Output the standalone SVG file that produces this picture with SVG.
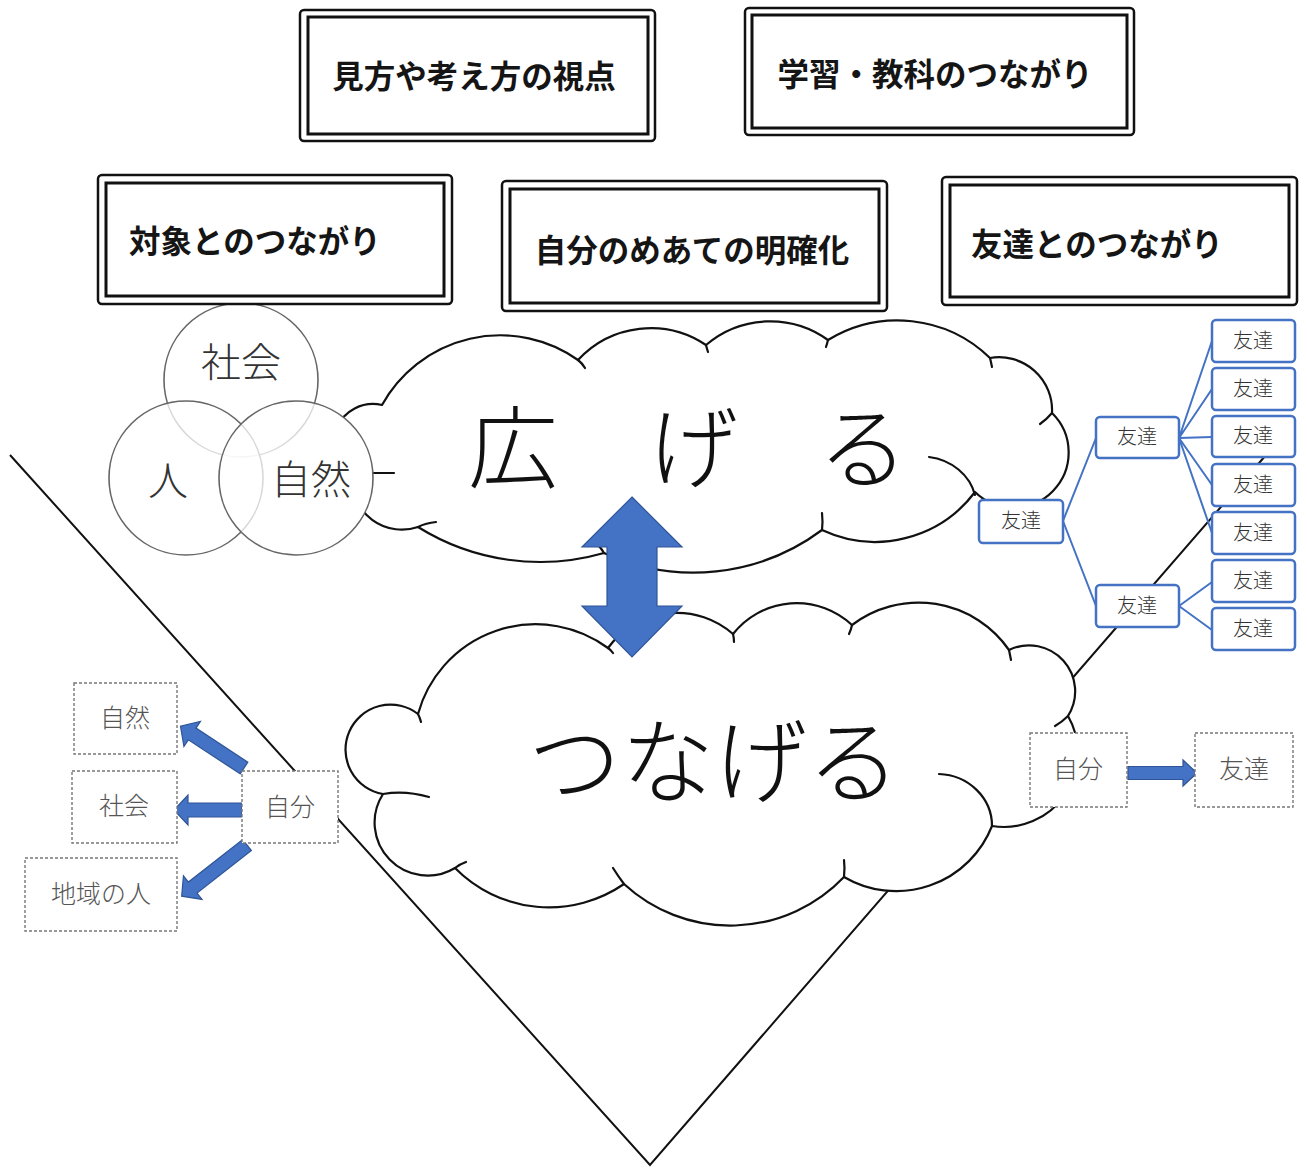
<svg xmlns="http://www.w3.org/2000/svg" width="1307" height="1168" viewBox="0 0 1307 1168">
<style>
.bg{fill:#fff}
.dbo{fill:#fff;stroke:#111;stroke-width:2.5}
.dbi{fill:none;stroke:#111;stroke-width:3}
.ttl{font-family:"Noto Sans CJK JP","Noto Sans CJK SC",sans-serif;font-weight:700;font-size:31.5px;fill:#151515}
.cloud{fill:#fff;stroke:#111;stroke-width:2.2;stroke-linejoin:round}
.crease{fill:none;stroke:#111;stroke-width:2.2;stroke-linecap:round}
.big{font-family:"Noto Sans CJK JP","Noto Sans CJK SC",sans-serif;font-weight:300;fill:#111}
.vline{stroke:#111;stroke-width:2;fill:none}
.circ{fill:#fff;fill-opacity:0.75;stroke:#666;stroke-width:1.6}
.under{fill:#fff}
.ctx{font-family:"Noto Sans CJK JP","Noto Sans CJK SC",sans-serif;font-weight:300;font-size:40px;fill:#333;text-anchor:middle}
.fb{fill:#fff;stroke:#4472C4;stroke-width:2.5}
.ft{font-family:"Noto Sans CJK JP","Noto Sans CJK SC",sans-serif;font-weight:300;font-size:20px;fill:#333;text-anchor:middle}
.fl{stroke:#4472C4;stroke-width:2;fill:none}
.db{fill:#fff;stroke:#777;stroke-width:1.4;stroke-dasharray:3 2}
.dt{font-family:"Noto Sans CJK JP","Noto Sans CJK SC",sans-serif;font-weight:300;font-size:25px;fill:#555;text-anchor:middle}
.arr{fill:#4472C4;stroke:#2F5597;stroke-width:1.2}
</style>
<rect class="bg" x="0" y="0" width="1307" height="1168"/>

<g id="v-shape">
<path class="vline" d="M10,455 L650,1165 L1266,455"/>
</g>

<g id="cloud-hirogeru">
<path class="cloud" d="M352,478 A40 40 0 0 1 382,405 A135 135 0 0 1 578,360 A99 99 0 0 1 706,345 A99 99 0 0 1 828,340 A133 133 0 0 1 990,358 A53 53 0 0 1 1052,413 A55 55 0 0 1 975,492 A125 125 0 0 1 822,530 A215 215 0 0 1 604,553 A231 231 0 0 1 418,527 A50 50 0 0 1 352,478 Z"/>
<path class="crease" d="M929,457 A55 50 0 0 1 975,495"/>
<path class="crease" d="M822,530 Q823,522 822,513"/>
<path class="crease" d="M604,553 Q600,546 594,542"/>
<path class="crease" d="M418,527 Q426,523 436,522"/>
<path class="crease" d="M1052,413 Q1046,420 1040,424"/>
<path class="crease" d="M990,358 Q991,362 992,367"/>
<path class="crease" d="M578,360 Q582,363 585,368"/>
<path class="crease" d="M706,345 Q707,349 708,352"/>
<path class="crease" d="M828,340 Q827,344 826,347"/>
<path class="crease" d="M373,473 L394,473"/>
<text class="big" font-size="90" x="468 648 818" y="481">広げる</text>
</g>

<g id="cloud-tsunageru">
<path class="cloud" d="M383,794 A45 45 0 1 1 418,714 A122 122 0 0 1 608,648 A85 85 0 0 1 733,634 A81 81 0 0 1 852,625 A110 110 0 0 1 1009,650 A46 46 0 0 1 1068,716 A74 74 0 0 1 992,826 A103 103 0 0 1 844,877 A157 157 0 0 1 624,884 A132 132 0 0 1 455,868 A53 53 0 0 1 383,794 Z"/>
<path class="crease" d="M939,774 A55 52 0 0 1 992,826"/>
<path class="crease" d="M844,877 Q845,868 844,860"/>
<path class="crease" d="M624,884 Q618,876 613,868"/>
<path class="crease" d="M455,868 Q460,864 466,862"/>
<path class="crease" d="M383,794 Q405,790 429,797"/>
<path class="crease" d="M418,714 Q420,718 421,722"/>
<path class="crease" d="M608,648 Q611,650 613,653"/>
<path class="crease" d="M733,634 Q734,638 734,642"/>
<path class="crease" d="M852,625 Q851,630 849,634"/>
<path class="crease" d="M1009,650 Q1010,655 1011,660"/>
<path class="crease" d="M1068,716 Q1062,722 1055,726"/>
<text class="big" font-size="93" x="528" y="796">つなげる</text>
</g>

<g id="circle-backing">
<circle class="under" cx="241" cy="380" r="77"/>
<circle class="under" cx="186" cy="478" r="77"/>
<circle class="under" cx="296" cy="478" r="77"/>
</g>
<g id="circle-shakai">
<circle class="circ" cx="241" cy="380" r="77"/>
<text class="ctx" x="241" y="377">社会</text>
</g>
<g id="circle-hito">
<circle class="circ" cx="186" cy="478" r="77"/>
<text class="ctx" x="168" y="495">人</text>
</g>
<g id="circle-shizen">
<circle class="circ" cx="296" cy="478" r="77"/>
<text class="ctx" x="311" y="494">自然</text>
</g>

<g id="box-mikata">
<rect class="dbo" x="300" y="10" width="355" height="131" rx="4"/>
<rect class="dbi" x="308" y="17" width="340" height="117"/>
<text class="ttl" x="474" y="88" text-anchor="middle">見方や考え方の視点</text>
</g>
<g id="box-gakushu">
<rect class="dbo" x="745" y="8" width="389" height="127" rx="4"/>
<rect class="dbi" x="752" y="15" width="375" height="113"/>
<text class="ttl" x="935" y="86" text-anchor="middle">学習・教科のつながり</text>
</g>
<g id="box-taisho">
<rect class="dbo" x="98" y="175" width="354" height="129" rx="4"/>
<rect class="dbi" x="106" y="183" width="338" height="113"/>
<text class="ttl" x="129" y="253">対象とのつながり</text>
</g>
<g id="box-meate">
<rect class="dbo" x="502" y="181" width="385" height="130" rx="4"/>
<rect class="dbi" x="510" y="189" width="369" height="114"/>
<text class="ttl" x="692" y="262" text-anchor="middle">自分のめあての明確化</text>
</g>
<g id="box-tomodachi">
<rect class="dbo" x="942" y="177" width="355" height="128" rx="4"/>
<rect class="dbi" x="950" y="185" width="339" height="112"/>
<text class="ttl" x="971" y="256">友達とのつながり</text>
</g>

<g id="double-arrow">
<path class="arr" d="M632,497 L682,547 L657,547 L657,606 L682,606 L632,657 L582,606 L607,606 L607,547 L582,547 Z"/>
</g>

<g id="connectors">
<path class="fl" d="M1063,521 L1096,438 M1063,521 L1096,606"/>
<path class="fl" d="M1179,438 L1212,341 M1179,438 L1212,389 M1179,438 L1212,437 M1179,438 L1212,485 M1179,438 L1212,533"/>
<path class="fl" d="M1179,606 L1212,582 M1179,606 L1212,630"/>
<g transform="translate(242,810) rotate(180)"><path class="arr" d="M0,-7 H54 V-15 L68,0 L54,15 V7 H0Z"/></g>
<g transform="translate(244,768) rotate(213.3)"><path class="arr" d="M0,-7 H62 V-15 L76,0 L62,15 V7 H0Z"/></g>
<g transform="translate(247,845) rotate(141.9)"><path class="arr" d="M0,-7 H69 V-15 L83,0 L69,15 V7 H0Z"/></g>
<g transform="translate(1128,773)"><path class="arr" d="M0,-6.5 H55 V-13 L69,0 L55,13 V6.5 H0Z"/></g>
</g>

<g id="f-root"><rect class="fb" x="979" y="500" width="84" height="43" rx="4"/><text class="ft" x="1021" y="528">友達</text></g>
<g id="f-mid1"><rect class="fb" x="1096" y="417" width="83" height="41" rx="4"/><text class="ft" x="1137" y="444">友達</text></g>
<g id="f-mid2"><rect class="fb" x="1096" y="585" width="83" height="42" rx="4"/><text class="ft" x="1137" y="613">友達</text></g>
<g id="f-r1"><rect class="fb" x="1212" y="320" width="83" height="42" rx="4"/><text class="ft" x="1253" y="348">友達</text></g>
<g id="f-r2"><rect class="fb" x="1212" y="368" width="83" height="42" rx="4"/><text class="ft" x="1253" y="396">友達</text></g>
<g id="f-r3"><rect class="fb" x="1212" y="416" width="83" height="41" rx="4"/><text class="ft" x="1253" y="443">友達</text></g>
<g id="f-r4"><rect class="fb" x="1212" y="464" width="83" height="42" rx="4"/><text class="ft" x="1253" y="492">友達</text></g>
<g id="f-r5"><rect class="fb" x="1212" y="512" width="83" height="42" rx="4"/><text class="ft" x="1253" y="540">友達</text></g>
<g id="f-r6"><rect class="fb" x="1212" y="560" width="83" height="42" rx="4"/><text class="ft" x="1253" y="588">友達</text></g>
<g id="f-r7"><rect class="fb" x="1212" y="608" width="83" height="42" rx="4"/><text class="ft" x="1253" y="636">友達</text></g>

<g id="l-shizen"><rect class="db" x="74" y="683" width="103" height="71"/><text class="dt" x="125" y="727">自然</text></g>
<g id="l-shakai"><rect class="db" x="72" y="771" width="105" height="72"/><text class="dt" x="124" y="815">社会</text></g>
<g id="l-chiiki"><rect class="db" x="25" y="858" width="152" height="73"/><text class="dt" x="101" y="903">地域の人</text></g>
<g id="l-jibun"><rect class="db" x="242" y="771" width="96" height="72"/><text class="dt" x="290" y="816">自分</text></g>

<g id="r-jibun"><rect class="db" x="1030" y="733" width="97" height="74"/><text class="dt" x="1078" y="778">自分</text></g>
<g id="r-tomodachi"><rect class="db" x="1195" y="733" width="98" height="74"/><text class="dt" x="1244" y="778">友達</text></g>
</svg>
